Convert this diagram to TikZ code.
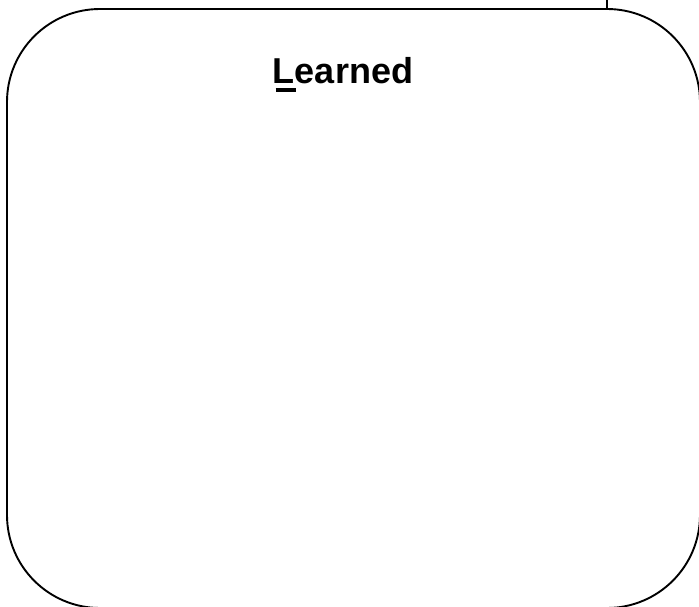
\documentclass[tikz,border=0pt]{standalone}
\usepackage{fontspec}
\setmainfont{Liberation Sans}
\begin{document}
\begin{tikzpicture}[x=1pt,y=-1pt,
  panel/.style={draw=black, line width=1.9pt, rounded corners=93pt, minimum width=693pt, minimum height=599pt, inner sep=0pt, outer sep=0pt},
  connector/.style={draw=black, line width=1.4pt},
  titletext/.style={font=\fontsize{36}{40}\selectfont\bfseries, inner sep=0pt, anchor=base}]
  \useasboundingbox (0,0) rectangle (699,607);
  \node[panel] (box) at (353.5,308.5) {};
  \node[titletext] (title) at (343,84) {\kern2.6pt\rlap{\rule[-8pt]{20pt}{4pt}}\kern-2.6pt Learned};
  \coordinate (feed) at (607,-2);
  \draw[connector] (feed) -- (feed |- box.north);
\end{tikzpicture}
\end{document}
